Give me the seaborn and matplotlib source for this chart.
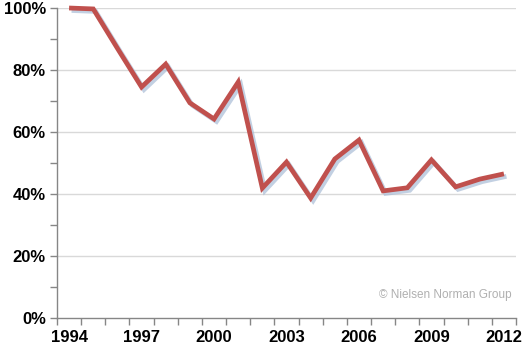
import numpy as np
import pandas as pd
import seaborn as sns
import matplotlib.pyplot as plt
import matplotlib.patheffects as pe

years = list(range(1994, 2013))
share = [100, 99.7, 87, 74.5, 81.9, 69.4, 64.2, 76.1, 41.9, 50.3, 38.7,
         51.3, 57.4, 41.0, 42.0, 51.0, 42.3, 44.8, 46.5]
label_years = [1994, 1997, 2000, 2003, 2006, 2009, 2012]

df = pd.DataFrame({'year': years, 'share': share})

sns.set_style("white")
plt.rcParams['font.family'] = ['Liberation Sans', 'DejaVu Sans']

fig = plt.figure(figsize=(5.25, 3.5), dpi=100)
ax = fig.add_axes([57 / 525, 1 - 318 / 350, (516 - 57) / 525, (318 - 8) / 350])

ax.set_xlim(1993.5, 2012.5)
ax.set_ylim(0, 100)

for y in range(20, 101, 20):
    ax.axhline(y, color='#d9d9d9', lw=1, zorder=0)

sns.lineplot(data=df, x='year', y='share', ax=ax, color='#c0504d', lw=3.4,
             solid_joinstyle='miter', solid_capstyle='butt', clip_on=False,
             path_effects=[pe.SimpleLineShadow(offset=(1.8, -1.8), shadow_color='#a9bcd6', alpha=0.7),
                           pe.Normal()])

# spines
for s in ['top', 'right']:
    ax.spines[s].set_visible(False)
for s in ['left', 'bottom']:
    ax.spines[s].set_color('#868686')
    ax.spines[s].set_linewidth(1)

# x ticks: marks at category boundaries, labels at every third year
ax.set_xticks(np.arange(1993.5, 2013, 1))
ax.set_xticklabels([])
ax.set_xticks(label_years, minor=True)
ax.set_xticklabels([str(y) for y in label_years], minor=True,
                   fontsize=12, fontweight='bold')
ax.tick_params(axis='x', which='major', direction='out', length=5,
               color='#868686', width=1, bottom=True)
ax.tick_params(axis='x', which='minor', length=0, pad=9, bottom=True,
               labelcolor='black')

# y ticks every 10%, labels every 20%
ax.set_yticks(range(0, 101, 20))
ax.set_yticklabels([f'{v}%' for v in range(0, 101, 20)],
                   fontsize=12, fontweight='bold')
ax.set_yticks(range(10, 100, 20), minor=True)
ax.tick_params(axis='y', which='both', direction='out', length=5,
               color='#868686', width=1, left=True, pad=3, labelcolor='black')

ax.set_xlabel('')
ax.set_ylabel('')

ax.text(2012.3, 7.3, '© Nielsen Norman Group', ha='right', va='center',
        fontsize=8.5, color='#b0b0b0', family=['Liberation Sans', 'DejaVu Sans'])

fig.savefig('out.png', dpi=100)
